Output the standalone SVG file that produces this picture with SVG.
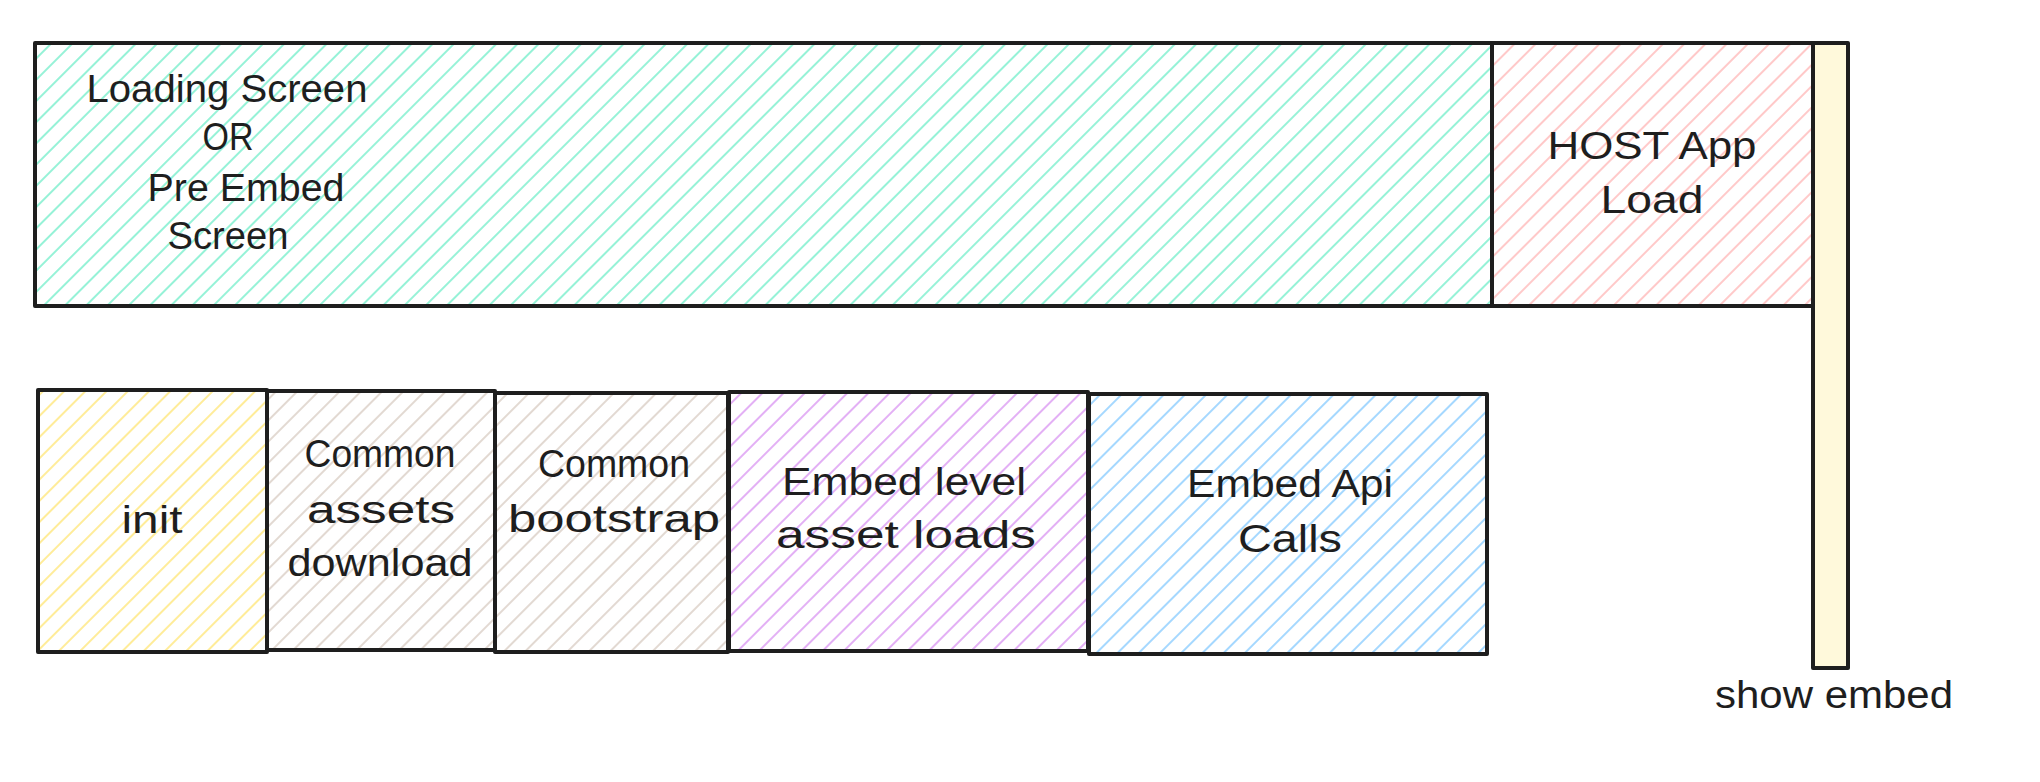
<svg xmlns="http://www.w3.org/2000/svg" width="2040" height="782" viewBox="0 0 2040 782">
<defs>
<pattern id="hGreen" patternUnits="userSpaceOnUse" width="15" height="15" patternTransform="rotate(45)"><line x1="7" y1="0" x2="7" y2="15" stroke="#96f2d7" stroke-width="2"/></pattern>
<pattern id="hRed" patternUnits="userSpaceOnUse" width="15" height="15" patternTransform="rotate(45)"><line x1="7" y1="0" x2="7" y2="15" stroke="#ffc9c9" stroke-width="2"/></pattern>
<pattern id="hYellow" patternUnits="userSpaceOnUse" width="15" height="15" patternTransform="rotate(45)"><line x1="7" y1="0" x2="7" y2="15" stroke="#ffec99" stroke-width="2"/></pattern>
<pattern id="hGray" patternUnits="userSpaceOnUse" width="15" height="15" patternTransform="rotate(45)"><line x1="7" y1="0" x2="7" y2="15" stroke="#e2d9d2" stroke-width="2"/></pattern>
<pattern id="hPurple" patternUnits="userSpaceOnUse" width="15" height="15" patternTransform="rotate(45)"><line x1="7" y1="0" x2="7" y2="15" stroke="#e3b0f5" stroke-width="2"/></pattern>
<pattern id="hBlue" patternUnits="userSpaceOnUse" width="15" height="15" patternTransform="rotate(45)"><line x1="7" y1="0" x2="7" y2="15" stroke="#a5d8ff" stroke-width="2"/></pattern>
</defs>
<style>
.box{stroke:#1e1e1e;stroke-width:4;stroke-linejoin:round}
.t{font-family:"Liberation Sans",Arial,sans-serif;font-size:38px;fill:#1e1e1e;text-anchor:middle}
</style>
<rect width="2040" height="782" fill="#ffffff"/>
<g id="loading-screen">
<rect class="box" x="35" y="43" width="1457" height="263" fill="url(#hGreen)"/>
<text class="t" x="227" y="102" textLength="281" lengthAdjust="spacingAndGlyphs">Loading Screen</text>
<text class="t" x="228" y="150" textLength="51" lengthAdjust="spacingAndGlyphs">OR</text>
<text class="t" x="246" y="201" textLength="197" lengthAdjust="spacingAndGlyphs">Pre Embed</text>
<text class="t" x="228" y="249" textLength="121" lengthAdjust="spacingAndGlyphs">Screen</text>
</g>
<g id="host-app-load">
<rect class="box" x="1492" y="43" width="321" height="263" fill="url(#hRed)"/>
<text class="t" x="1652" y="159" textLength="209" lengthAdjust="spacingAndGlyphs">HOST App</text>
<text class="t" x="1652" y="213" textLength="103" lengthAdjust="spacingAndGlyphs">Load</text>
</g>
<g id="show-embed">
<rect class="box" x="1813" y="43" width="35" height="625" fill="#fff9db"/>
<text class="t" x="1834" y="708" textLength="238" lengthAdjust="spacingAndGlyphs">show embed</text>
</g>
<g id="init">
<rect class="box" x="38" y="390" width="229" height="262" fill="url(#hYellow)"/>
<text class="t" x="152" y="533" textLength="61" lengthAdjust="spacingAndGlyphs">init</text>
</g>
<g id="common-assets-download">
<rect class="box" x="267" y="391" width="228" height="259" fill="url(#hGray)"/>
<text class="t" x="380" y="467" textLength="151" lengthAdjust="spacingAndGlyphs">Common</text>
<text class="t" x="381" y="523" textLength="148" lengthAdjust="spacingAndGlyphs">assets</text>
<text class="t" x="380" y="576" textLength="185" lengthAdjust="spacingAndGlyphs">download</text>
</g>
<g id="common-bootstrap">
<rect class="box" x="495" y="393" width="233" height="259" fill="url(#hGray)"/>
<text class="t" x="614" y="477" textLength="152" lengthAdjust="spacingAndGlyphs">Common</text>
<text class="t" x="614" y="532" textLength="212" lengthAdjust="spacingAndGlyphs">bootstrap</text>
</g>
<g id="embed-level-asset-loads">
<rect class="box" x="729" y="392" width="359" height="259" fill="url(#hPurple)"/>
<text class="t" x="904" y="495" textLength="244" lengthAdjust="spacingAndGlyphs">Embed level</text>
<text class="t" x="906" y="548" textLength="260" lengthAdjust="spacingAndGlyphs">asset loads</text>
</g>
<g id="embed-api-calls">
<rect class="box" x="1089" y="394" width="398" height="260" fill="url(#hBlue)"/>
<text class="t" x="1290" y="497" textLength="206" lengthAdjust="spacingAndGlyphs">Embed Api</text>
<text class="t" x="1290" y="552" textLength="104" lengthAdjust="spacingAndGlyphs">Calls</text>
</g>
<g id="connectors"></g>
</svg>
